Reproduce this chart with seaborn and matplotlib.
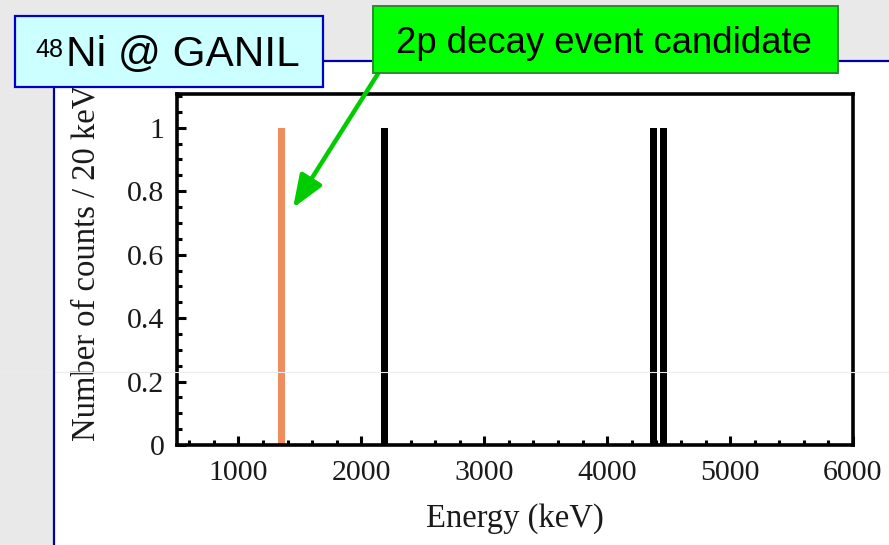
import matplotlib
matplotlib.use("Agg")
import matplotlib.pyplot as plt
import seaborn as sns
import pandas as pd
from matplotlib.patches import Rectangle, FancyArrowPatch
from matplotlib.lines import Line2D
from matplotlib.ticker import MultipleLocator

# ---- data ----
energies = [1350, 2186, 4377, 4455]          # keV
counts = [1, 1, 1, 1]                        # counts / 20 keV
kinds = ["candidate", "other", "other", "other"]
x_ticks = [1000, 2000, 3000, 4000, 5000, 6000]
y_ticks = [0, 0.2, 0.4, 0.6, 0.8, 1]
y_tick_labels = ["0", "0.2", "0.4", "0.6", "0.8", "1"]
title_main = "Ni @ GANIL"
title_sup = "48"
callout = "2p decay event candidate"

df = pd.DataFrame({"energy": energies, "counts": counts, "kind": kinds})

W, H = 889, 545
sns.set_theme(style="white")
plt.rcParams["font.family"] = ["Liberation Serif", "DejaVu Serif"]

fig = plt.figure(figsize=(W / 100, H / 100), dpi=100)
fig.patch.set_facecolor("#e9e9e9")


def fx(px):
    return px / W


def fy(py):
    return 1 - py / H


# white slide area
fig.patches.append(Rectangle((fx(53), 0), 1 - fx(53), fy(60.5), transform=fig.transFigure,
                             facecolor="white", edgecolor="none", zorder=-5))

ax = fig.add_axes([fx(177), fy(445), fx(853) - fx(177), fy(93.5) - fy(445)])
ax.set_zorder(1)
ax.set_facecolor("none")

sns.barplot(data=df, x="energy", y="counts", hue="kind", native_scale=True,
            palette={"candidate": "#F08D5E", "other": "black"}, dodge=False,
            saturation=1, width=0.74, errorbar=None, linewidth=0, legend=False,
            ax=ax, zorder=2)

ax.set_xlim(500, 6000)
ax.set_ylim(0, 1.108)
ax.set_xticks(x_ticks)
ax.set_xticklabels([str(t) for t in x_ticks])
ax.set_yticks(y_ticks)
ax.set_yticklabels(y_tick_labels)
ax.xaxis.set_minor_locator(MultipleLocator(200))
ax.yaxis.set_minor_locator(MultipleLocator(0.05))
ax.tick_params(which="both", direction="in", color="black", width=2.2,
               labelsize=21.5, labelcolor="#1a1a1a")
ax.tick_params(which="major", length=6.5, pad=9)
ax.tick_params(which="minor", length=3.8)
ax.tick_params(axis="x", which="both", bottom=True, top=False)
ax.tick_params(axis="y", which="both", left=True, right=False)
ax.tick_params(axis="x", which="major", pad=10.5)
for s in ax.spines.values():
    s.set_visible(True)
    s.set_color("black")
    s.set_linewidth(2.6)

ax.set_xlabel("Energy (keV)", fontsize=23.5, color="#1a1a1a")
ax.set_ylabel("Number of counts / 20 keV", fontsize=23.5, color="#1a1a1a")
ax.xaxis.set_label_coords(0.5, -0.165)
ax.yaxis.set_label_coords(-0.111, 0.518)

# faint artifact line
fig.lines.append(Line2D([0, 1], [fy(372), fy(372)], transform=fig.transFigure,
                        color="#ebebeb", lw=0.8, zorder=3))

# blue slide lines
fig.lines.append(Line2D([fx(323), 1], [fy(60.5), fy(60.5)], transform=fig.transFigure,
                        color="#0000aa", lw=1.6, zorder=5))
fig.lines.append(Line2D([fx(53.5), fx(53.5)], [fy(87), 0], transform=fig.transFigure,
                        color="#0000aa", lw=1.6, zorder=5))

# title box
fig.patches.append(Rectangle((fx(14.5), fy(87)), fx(323) - fx(14.5), fy(16) - fy(87),
                             transform=fig.transFigure, facecolor="#ccffff",
                             edgecolor="#0000cc", lw=1.6, zorder=10))
fig.text(fx(66), fy(66.5), title_main, fontsize=30.5, family=["Liberation Sans", "DejaVu Sans"],
         ha="left", va="baseline", color="black", zorder=11)
fig.text(fx(35), fy(57), title_sup, fontsize=18, family=["Liberation Sans", "DejaVu Sans"],
         ha="left", va="baseline", color="black", zorder=11)

# arrow
fig.patches.append(FancyArrowPatch((fx(379), fy(72)), (fx(293), fy(208)),
                                   transform=fig.transFigure,
                                   arrowstyle="-|>,head_length=0.9,head_width=0.35",
                                   mutation_scale=22, lw=3.2, color="#00cc00", zorder=9,
                                   shrinkA=0, shrinkB=0))

# callout box
fig.patches.append(Rectangle((fx(373), fy(72.5)), fx(838) - fx(373), fy(6) - fy(72.5),
                             transform=fig.transFigure, facecolor="#00ff00",
                             edgecolor="#2e8b2e", lw=1.4, zorder=10))
fig.text(fx(604), fy(53), callout, fontsize=26.3, family=["Liberation Sans", "DejaVu Sans"],
         ha="center", va="baseline", color="black", zorder=11)

fig.savefig("out.png", dpi=100, facecolor=fig.get_facecolor())
